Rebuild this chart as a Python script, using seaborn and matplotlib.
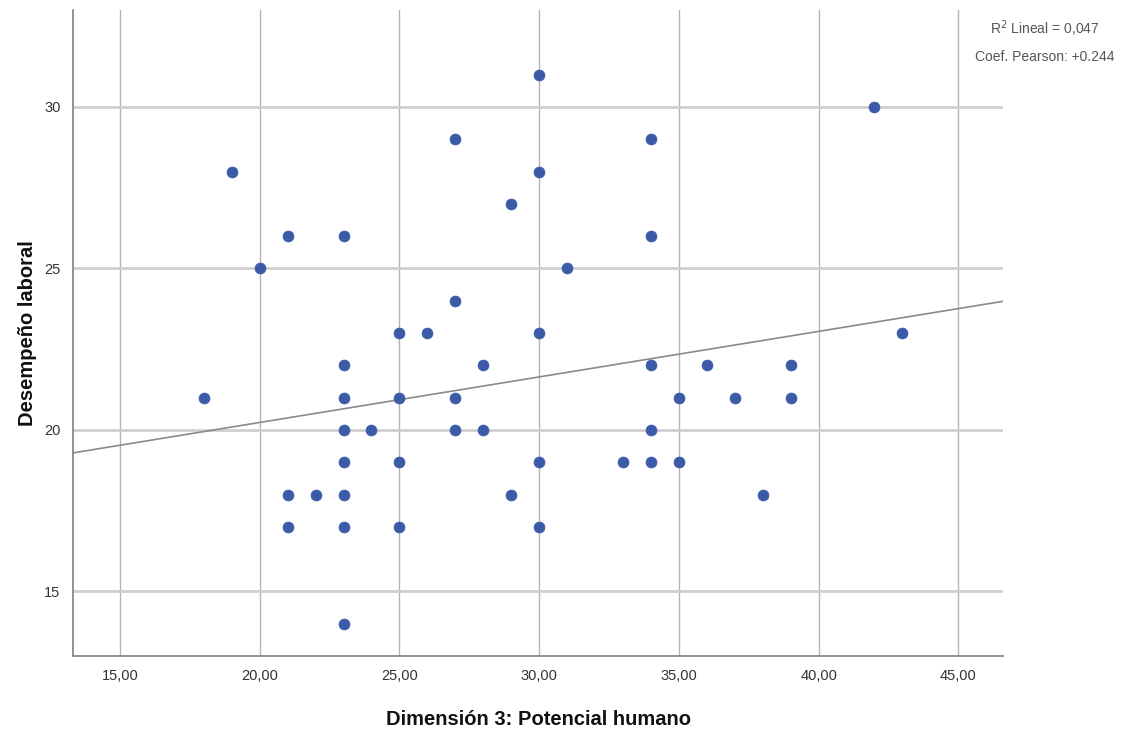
import matplotlib
matplotlib.use("Agg")
import matplotlib.pyplot as plt
import seaborn as sns
import pandas as pd

# Data
potencial_humano = [18, 19, 20, 21, 21, 21, 22, 23, 23, 23, 23, 23, 23, 23, 23,
                    24, 25, 25, 25, 25, 26, 27, 27, 27, 27, 28, 28, 29, 29,
                    30, 30, 30, 30, 30, 31, 33, 34, 34, 34, 34, 34, 35, 35,
                    36, 37, 38, 39, 39, 42, 43]
desempeno = [21, 28, 25, 26, 18, 17, 18, 26, 22, 21, 20, 19, 18, 17, 14,
             20, 23, 21, 19, 17, 23, 29, 24, 21, 20, 22, 20, 27, 18,
             31, 28, 23, 19, 17, 25, 19, 29, 26, 22, 20, 19, 21, 19,
             22, 21, 18, 22, 21, 30, 23]
fit_intercept = 17.41
fit_slope = 0.141
x_ticks = [15, 20, 25, 30, 35, 40, 45]
x_tick_labels = ["15,00", "20,00", "25,00", "30,00", "35,00", "40,00", "45,00"]
y_ticks = [15, 20, 25, 30]
y_tick_labels = ["15", "20", "25", "30"]
annot_r2 = "R$^2$ Lineal = 0,047"
annot_pearson = "Coef. Pearson: +0.244"

df = pd.DataFrame({"x": potencial_humano, "y": desempeno})

sns.set_theme(style="white")
plt.rcParams['font.family'] = ['Liberation Sans Narrow', 'Liberation Sans', 'DejaVu Sans']

fig = plt.figure(figsize=(11.27, 7.31), dpi=100)
ax = fig.add_axes([73 / 1127, 1 - 656 / 731, (1003 - 73) / 1127, (656 - 10) / 731])

ax.set_xlim(13.32, 46.6)
ax.set_ylim(13.0, 33.0)

ax.set_xticks(x_ticks)
ax.set_xticklabels(x_tick_labels)
ax.set_yticks(y_ticks)
ax.set_yticklabels(y_tick_labels)

# grid
for xv in x_ticks:
    ax.axvline(xv, color="#b4b4b4", lw=1.0, zorder=0)
for yv in y_ticks:
    ax.axhline(yv, color="#cfcfcf", lw=2.0, zorder=0)

ax.axline((0, fit_intercept), slope=fit_slope, color="#8a8a8a", lw=1.2, zorder=2)

sns.scatterplot(data=df, x="x", y="y", ax=ax, s=62, color="#3b5ba9",
                edgecolor="#3b5ba9", linewidth=0.5, zorder=3)

for side in ["top", "right"]:
    ax.spines[side].set_visible(False)
for side in ["left", "bottom"]:
    ax.spines[side].set_color("#7f7f7f")
    ax.spines[side].set_linewidth(1.2)

ax.tick_params(axis="both", length=0, labelsize=10.5, colors="#333333", pad=9)
ax.set_xlabel("Dimensión 3: Potencial humano", fontsize=14.5, fontweight="bold",
              family=['Liberation Sans', 'DejaVu Sans'], labelpad=20, color="#111111")
ax.set_ylabel("Desempeño laboral", fontsize=14.5, fontweight="bold",
              family=['Liberation Sans', 'DejaVu Sans'], labelpad=5, color="#111111")

fig.text(1045 / 1127, 1 - 29 / 731, annot_r2, ha="center", va="center",
         fontsize=10, color="#555555")
fig.text(1045 / 1127, 1 - 57 / 731, annot_pearson, ha="center", va="center",
         fontsize=10, color="#555555")

fig.savefig("out.png", dpi=100)
